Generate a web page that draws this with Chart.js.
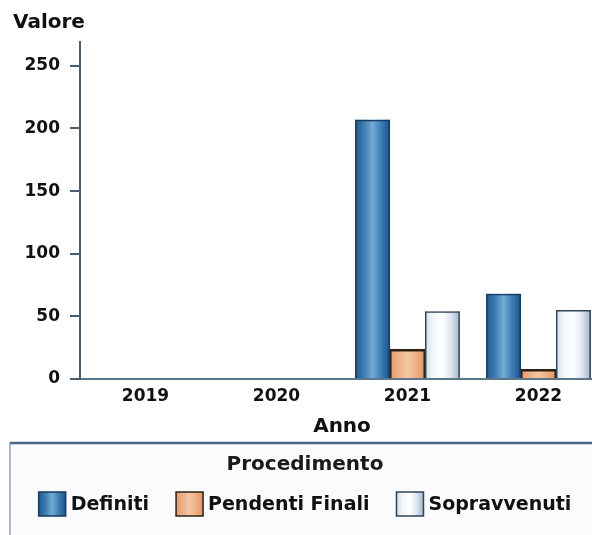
<!DOCTYPE html>
<html>
<head>
<meta charset="utf-8">
<script src="https://cdn.jsdelivr.net/npm/chart.js@4"></script>
<style>
  html, body { margin:0; padding:0; background:#fff; overflow:hidden; }
  #wrap { width:592px; height:535px; overflow:hidden; position:relative; }
  canvas { display:block; }
</style>
</head>
<body>
<div id="wrap"><canvas id="chart" width="612" height="535"></canvas></div>
<script>
'use strict';

const anni = ['2019', '2020', '2021', '2022'];
const definiti = [0, 0, 207, 68];
const pendentiFinali = [0, 0, 24, 8];
const sopravvenuti = [0, 0, 54, 55];
const yTicks = [0, 50, 100, 150, 200, 250];

const FONT = "'DejaVu Sans', 'Liberation Sans', sans-serif";

// gradient stops for each series (left -> right)
const shades = [
  { stops: ['#215a8f', '#3d7bb2', '#74aad3', '#3c7cb3', '#1c5285'], border: '#163a63' },
  { stops: ['#e39a68', '#eeb088', '#f6c7a4', '#eeae84', '#e19664'], border: '#2a2019' },
  { stops: ['#d3dfeb', '#f4f8fb', '#ffffff', '#dbe5ef', '#9fb4c9'], border: '#2f4258' }
];

function fillShade(ctx, idx, x0, y0, w, h) {
  const g = ctx.createLinearGradient(x0, 0, x0 + w, 0);
  const st = shades[idx].stops;
  st.forEach((c, k) => g.addColorStop(k / (st.length - 1), c));
  ctx.fillStyle = g;
  ctx.fillRect(x0, y0, w, h);
}

const barShade = {
  id: 'barShade',
  beforeDatasetsDraw(chart) {
    const ctx = chart.ctx;
    chart.data.datasets.forEach((ds, i) => {
      chart.getDatasetMeta(i).data.forEach(el => {
        const p = el.getProps(['x', 'y', 'base', 'width'], true);
        const h = p.base - p.y;
        if (h <= 0) return;
        fillShade(ctx, i, p.x - p.width / 2, p.y, p.width, h);
      });
    });
  }
};

const extras = {
  id: 'extras',
  afterDraw(chart) {
    const ctx = chart.ctx;
    ctx.save();
    // y title
    ctx.fillStyle = '#111';
    ctx.font = 'bold 20px ' + FONT;
    ctx.textBaseline = 'middle';
    ctx.textAlign = 'left';
    ctx.fillText('Valore', 13, 23);

    // legend box
    const bx = 10, by = 443, bw = 590, bh = 110;
    ctx.fillStyle = '#f9fbfd';
    ctx.fillRect(bx, by, bw, bh);
    ctx.strokeStyle = '#8ea3b6';
    ctx.lineWidth = 1.5;
    ctx.strokeRect(bx, by, bw, bh);
    ctx.strokeStyle = '#4a6883';
    ctx.lineWidth = 2.5;
    ctx.beginPath(); ctx.moveTo(bx, by); ctx.lineTo(bx + bw, by); ctx.stroke();

    const cx = 305;
    ctx.fillStyle = '#1a1a1a';
    ctx.font = 'bold 20px ' + FONT;
    ctx.textAlign = 'center';
    ctx.fillText('Procedimento', cx, 465);

    ctx.font = 'bold 19px ' + FONT;
    ctx.textAlign = 'left';
    const sw = 27, sh = 24, gapIn = 5, gapOut = 27;
    const ds = chart.data.datasets;
    let total = 0;
    ds.forEach((d, i) => {
      total += sw + gapIn + ctx.measureText(d.label).width + (i < ds.length - 1 ? gapOut : 0);
    });
    let x = cx - total / 2;
    const ly = 504;
    ds.forEach((d, i) => {
      fillShade(ctx, i, x, ly - sh / 2, sw, sh);
      ctx.strokeStyle = shades[i].border;
      ctx.lineWidth = 1.5;
      ctx.strokeRect(x, ly - sh / 2, sw, sh);
      x += sw + gapIn;
      ctx.fillStyle = '#111';
      ctx.fillText(d.label, x, ly + 1);
      x += ctx.measureText(d.label).width + gapOut;
    });
    ctx.restore();
  }
};

new Chart(document.getElementById('chart'), {
  type: 'bar',
  data: {
    labels: anni,
    datasets: [
      { label: 'Definiti', data: definiti, backgroundColor: 'rgba(0,0,0,0)', borderColor: shades[0].border, borderWidth: 1.5 },
      { label: 'Pendenti Finali', data: pendentiFinali, backgroundColor: 'rgba(0,0,0,0)', borderColor: shades[1].border, borderWidth: { top: 2.5, left: 1.5, right: 1.5, bottom: 0 } },
      { label: 'Sopravvenuti', data: sopravvenuti, backgroundColor: 'rgba(0,0,0,0)', borderColor: shades[2].border, borderWidth: 1.5 }
    ]
  },
  options: {
    responsive: false,
    animation: false,
    layout: { padding: { top: 42, left: 0, right: 8, bottom: 96 } },
    plugins: { legend: { display: false }, tooltip: { enabled: false } },
    datasets: { bar: { categoryPercentage: 0.8, barPercentage: 1.0, borderSkipped: 'bottom' } },
    scales: {
      x: {
        grid: { display: false, drawTicks: false },
        border: { display: true, color: '#5c7587', width: 2 },
        ticks: { color: '#111', padding: 7, font: { family: FONT, size: 17, weight: 'bold' } },
        title: { display: true, text: 'Anno', color: '#111', padding: { top: 0, bottom: 0 }, font: { family: FONT, size: 20, weight: 'bold' } },
        afterFit(scale) { scale.height = 60; }
      },
      y: {
        min: 0,
        max: 269,
        afterBuildTicks(scale) { scale.ticks = yTicks.map(v => ({ value: v })); },
        grid: { drawOnChartArea: false, drawTicks: true, tickLength: 10, color: '#4b5d6e', lineWidth: 2 },
        border: { display: true, color: '#4b5d6e', width: 2 },
        ticks: { color: '#111', padding: 10, font: { family: FONT, size: 17, weight: 'bold' } },
        afterFit(scale) { scale.width = 80; }
      }
    }
  },
  plugins: [barShade, extras]
});
</script>
</body>
</html>
